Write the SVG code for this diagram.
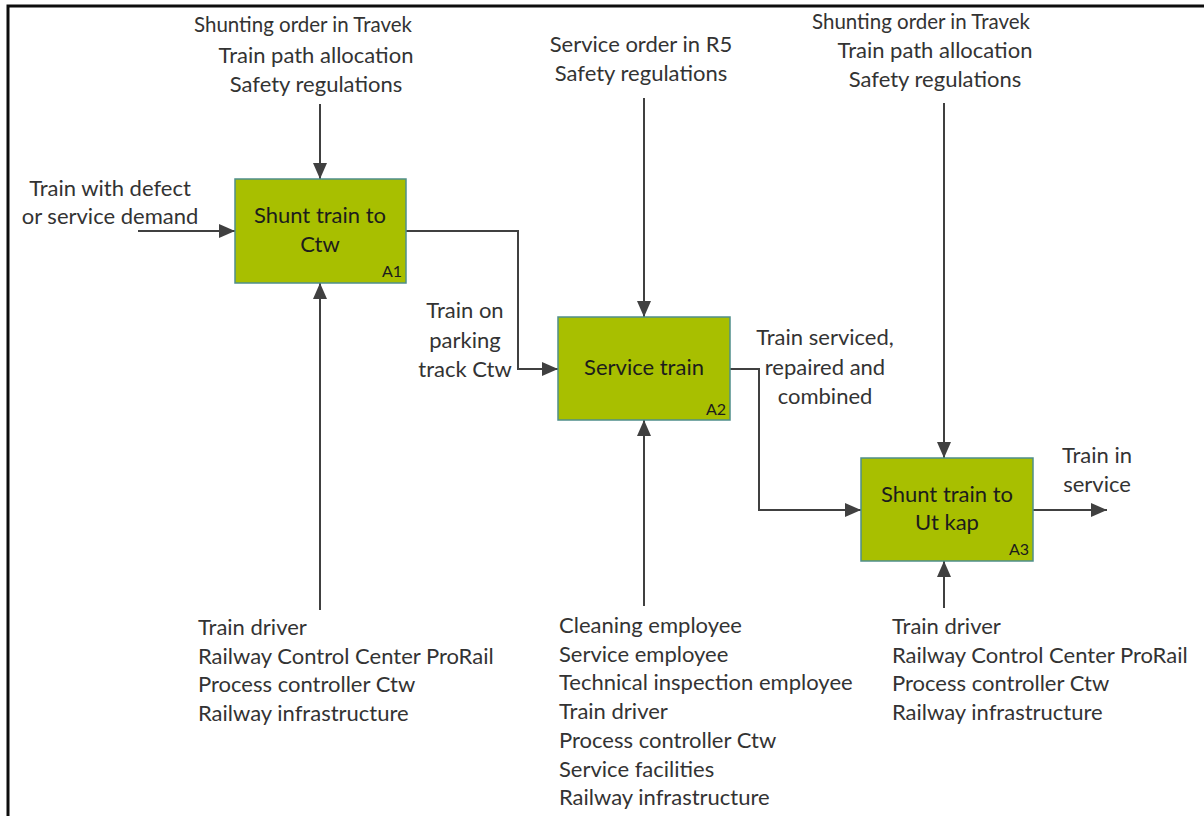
<svg xmlns="http://www.w3.org/2000/svg" width="1204" height="816" viewBox="0 0 1204 816">
  <defs>
    <marker id="arrow" viewBox="0 0 16 14" refX="16" refY="7" markerWidth="16" markerHeight="14" markerUnits="userSpaceOnUse" orient="auto">
      <path d="M0,0 L16,7 L0,14 Z" fill="#404040"/>
    </marker>
    <style>
      .box { fill: #a8bf00; stroke: #4f8f8a; stroke-width: 1.5; }
      .title { font-family: Lato, "Liberation Sans", sans-serif; font-size: 22px; fill: #1c1c1c; text-anchor: middle; }
      .tag { font-family: Lato, "Liberation Sans", sans-serif; font-size: 16px; fill: #1c1c1c; text-anchor: end; }
      .lbl { font-family: Lato, "Liberation Sans", sans-serif; font-size: 22px; fill: #333333; }
      .lbl.first { font-size: 20.5px; }
      .mid { text-anchor: middle; }
      .conn { fill: none; stroke: #404040; stroke-width: 2; marker-end: url(#arrow); }
    </style>
  </defs>

  <rect width="1204" height="816" fill="#ffffff"/>
  <!-- frame -->
  <path d="M8,830 V6 H1215" fill="none" stroke="#0d0d0d" stroke-width="3"/>

  <!-- connectors -->
  <g id="connectors">
    <path class="conn" d="M320,104 V179"/>
    <path class="conn" d="M138,231 H235"/>
    <path class="conn" d="M320,610 V283"/>
    <path class="conn" d="M406,231 H518 V369 H558"/>
    <path class="conn" d="M644,98 V317"/>
    <path class="conn" d="M644,606 V420"/>
    <path class="conn" d="M730,369 H759 V510 H861"/>
    <path class="conn" d="M944,103 V458"/>
    <path class="conn" d="M944,608 V561"/>
    <path class="conn" d="M1033,510 H1107"/>
  </g>

  <!-- activity boxes -->
  <g id="node-a1">
    <rect class="box" x="235" y="179" width="171" height="104"/>
    <text class="title" x="320" y="223">Shunt train to</text>
    <text class="title" x="320" y="252">Ctw</text>
    <text class="tag" x="402" y="277">A1</text>
  </g>
  <g id="node-a2">
    <rect class="box" x="558" y="317" width="172" height="103"/>
    <text class="title" x="644" y="375">Service train</text>
    <text class="tag" x="726" y="415">A2</text>
  </g>
  <g id="node-a3">
    <rect class="box" x="861" y="458" width="172" height="103"/>
    <text class="title" x="947" y="502">Shunt train to</text>
    <text class="title" x="947" y="530">Ut kap</text>
    <text class="tag" x="1029" y="555">A3</text>
  </g>

  <!-- controls -->
  <g id="ctrl-a1">
    <text class="lbl first mid" x="303" y="32">Shunting order in Travek</text>
    <text class="lbl mid" x="316" y="63">Train path allocation</text>
    <text class="lbl mid" x="316" y="92">Safety regulations</text>
  </g>
  <g id="ctrl-a2">
    <text class="lbl mid" x="641" y="52">Service order in R5</text>
    <text class="lbl mid" x="641" y="81">Safety regulations</text>
  </g>
  <g id="ctrl-a3">
    <text class="lbl first mid" x="921" y="29">Shunting order in Travek</text>
    <text class="lbl mid" x="935" y="58">Train path allocation</text>
    <text class="lbl mid" x="935" y="87">Safety regulations</text>
  </g>

  <!-- inputs / outputs -->
  <g id="in-a1">
    <text class="lbl mid" x="110" y="196">Train with defect</text>
    <text class="lbl mid" x="110" y="224">or service demand</text>
  </g>
  <g id="out-a1">
    <text class="lbl mid" x="465" y="318">Train on</text>
    <text class="lbl mid" x="465" y="348">parking</text>
    <text class="lbl mid" x="465" y="377">track Ctw</text>
  </g>
  <g id="out-a2">
    <text class="lbl mid" x="825" y="345">Train serviced,</text>
    <text class="lbl mid" x="825" y="375">repaired and</text>
    <text class="lbl mid" x="825" y="404">combined</text>
  </g>
  <g id="out-a3">
    <text class="lbl mid" x="1097" y="463">Train in</text>
    <text class="lbl mid" x="1097" y="492">service</text>
  </g>

  <!-- mechanisms -->
  <g id="mech-a1">
    <text class="lbl" x="198" y="635">Train driver</text>
    <text class="lbl" x="198" y="664">Railway Control Center ProRail</text>
    <text class="lbl" x="198" y="692">Process controller Ctw</text>
    <text class="lbl" x="198" y="721">Railway infrastructure</text>
  </g>
  <g id="mech-a2">
    <text class="lbl" x="559" y="633">Cleaning employee</text>
    <text class="lbl" x="559" y="662">Service employee</text>
    <text class="lbl" x="559" y="690">Technical inspection employee</text>
    <text class="lbl" x="559" y="719">Train driver</text>
    <text class="lbl" x="559" y="748">Process controller Ctw</text>
    <text class="lbl" x="559" y="777">Service facilities</text>
    <text class="lbl" x="559" y="805">Railway infrastructure</text>
  </g>
  <g id="mech-a3">
    <text class="lbl" x="892" y="634">Train driver</text>
    <text class="lbl" x="892" y="663">Railway Control Center ProRail</text>
    <text class="lbl" x="892" y="691">Process controller Ctw</text>
    <text class="lbl" x="892" y="720">Railway infrastructure</text>
  </g>
</svg>
